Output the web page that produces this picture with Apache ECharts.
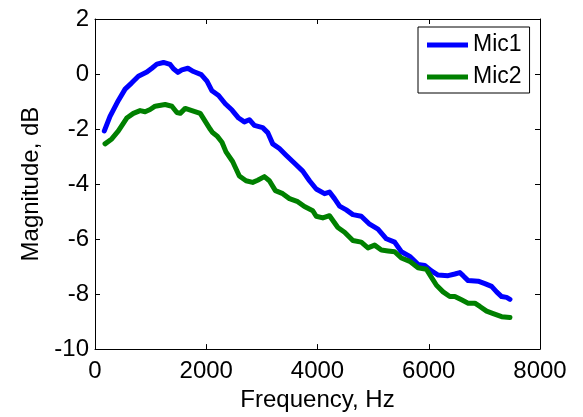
<!DOCTYPE html>
<html>
<head>
<meta charset="utf-8">
<script src="https://cdn.jsdelivr.net/npm/echarts@6/dist/echarts.min.js"></script>
<style>
  html, body { margin: 0; padding: 0; background: #fff; }
  #chart { width: 583px; height: 417px; }
</style>
</head>
<body>
<div id="chart"></div>
<script>
// values
const mic1Freq = [168, 270, 420, 541, 661, 780, 932, 1022, 1112, 1231, 1351, 1411, 1490, 1562, 1670, 1771,
  1910, 2013, 2103, 2222, 2342, 2463, 2582, 2685, 2775, 2865, 3014, 3105, 3195, 3315, 3436, 3616,
  3735, 3856, 3977, 4126, 4216, 4306, 4397, 4517, 4636, 4787, 4937, 5087, 5238, 5387, 5508, 5658,
  5807, 5928, 6049, 6168, 6348, 6469, 6559, 6618, 6708, 6888, 7009, 7130, 7220, 7310, 7400, 7460];
const mic1Mag = [-2.07, -1.54, -0.96, -0.55, -0.32, -0.08, 0.07, 0.21, 0.36, 0.42, 0.35, 0.19, 0.06, 0.15, 0.21, 0.09,
  -0.02, -0.26, -0.61, -0.78, -1.08, -1.31, -1.60, -1.74, -1.66, -1.87, -1.95, -2.13, -2.54, -2.71, -2.95, -3.30,
  -3.53, -3.88, -4.18, -4.35, -4.29, -4.53, -4.80, -4.94, -5.11, -5.17, -5.46, -5.64, -5.99, -6.11, -6.46, -6.63,
  -6.92, -6.96, -7.16, -7.31, -7.33, -7.27, -7.22, -7.33, -7.51, -7.53, -7.62, -7.72, -7.92, -8.09, -8.12, -8.19];

const mic2Freq = [180, 301, 420, 571, 690, 811, 901, 991, 1081, 1261, 1382, 1472, 1532, 1622, 1742, 1892,
  1982, 2072, 2114, 2193, 2283, 2355, 2474, 2595, 2715, 2834, 2924, 3045, 3135, 3243, 3375, 3496,
  3645, 3766, 3915, 3977, 4096, 4216, 4366, 4487, 4636, 4787, 4907, 5027, 5148, 5267, 5387, 5508,
  5658, 5807, 5959, 6049, 6139, 6258, 6378, 6469, 6589, 6708, 6829, 6919, 7040, 7159, 7310, 7460];
const mic2Mag = [-2.54, -2.36, -2.07, -1.60, -1.43, -1.33, -1.37, -1.29, -1.17, -1.11, -1.17, -1.40, -1.43, -1.25, -1.33, -1.43,
  -1.72, -2.01, -2.13, -2.25, -2.48, -2.83, -3.18, -3.71, -3.88, -3.94, -3.86, -3.73, -3.88, -4.24, -4.35, -4.53,
  -4.64, -4.82, -4.97, -5.17, -5.23, -5.15, -5.58, -5.75, -6.05, -6.11, -6.32, -6.22, -6.40, -6.43, -6.46, -6.69,
  -6.81, -7.04, -7.10, -7.39, -7.68, -7.92, -8.09, -8.09, -8.21, -8.33, -8.33, -8.45, -8.62, -8.71, -8.82, -8.85];

const seriesNames = ["Mic1", "Mic2"];
const seriesColors = ["#0000ff", "#008000"];

const FONT = "'Liberation Sans', Arial, sans-serif";

function pairs(xs, ys) {
  return xs.map((x, i) => [x, ys[i]]);
}

const chart = echarts.init(document.getElementById("chart"), null, { renderer: "canvas" });

const xBase = {
  type: "value",
  min: 0,
  max: 8000,
  interval: 2000,
  axisLine: { show: true, onZero: false, lineStyle: { color: "#000", width: 1 } },
  axisTick: { show: true, inside: true, length: 5, lineStyle: { color: "#000" } },
  splitLine: { show: false },
};
const yBase = {
  type: "value",
  min: -10,
  max: 2,
  interval: 2,
  axisLine: { show: true, onZero: false, lineStyle: { color: "#000", width: 1 } },
  axisTick: { show: true, inside: true, length: 5, lineStyle: { color: "#000" } },
  splitLine: { show: false },
};

chart.setOption({
  animation: false,
  backgroundColor: "#fff",
  grid: { left: 95, top: 19, right: 43, bottom: 56, containLabel: false },
  legend: {
    data: seriesNames,
    orient: "vertical",
    left: 418,
    top: 27,
    icon: "rect",
    itemWidth: 41,
    itemHeight: 5,
    itemGap: 6,
    padding: [5, 8, 3, 9],
    borderColor: "#000",
    borderWidth: 1,
    backgroundColor: "#fff",
    textStyle: { fontFamily: FONT, fontSize: 23, color: "#000", lineHeight: 26 },
  },
  xAxis: [
    Object.assign({}, xBase, {
      position: "bottom",
      name: "Frequency, Hz",
      nameLocation: "middle",
      nameGap: 34,
      nameTextStyle: { fontFamily: FONT, fontSize: 24, color: "#000" },
      axisLabel: { fontFamily: FONT, fontSize: 24, color: "#000", margin: 10, formatter: (v) => String(v) },
    }),
    Object.assign({}, xBase, { position: "top", axisLabel: { show: false } }),
  ],
  yAxis: [
    Object.assign({}, yBase, {
      position: "left",
      name: "Magnitude, dB",
      nameLocation: "middle",
      nameGap: 46,
      nameTextStyle: { fontFamily: FONT, fontSize: 24, color: "#000" },
      axisLabel: { fontFamily: FONT, fontSize: 24, color: "#000", margin: 6 },
    }),
    Object.assign({}, yBase, { position: "right", axisLabel: { show: false } }),
  ],
  series: [
    {
      name: seriesNames[0],
      type: "line",
      data: pairs(mic1Freq, mic1Mag),
      symbol: "none",
      color: seriesColors[0],
      lineStyle: { width: 5, color: seriesColors[0], cap: "round", join: "round" },
    },
    {
      name: seriesNames[1],
      type: "line",
      data: pairs(mic2Freq, mic2Mag),
      symbol: "none",
      color: seriesColors[1],
      lineStyle: { width: 5, color: seriesColors[1], cap: "round", join: "round" },
    },
  ],
});
</script>
</body>
</html>
